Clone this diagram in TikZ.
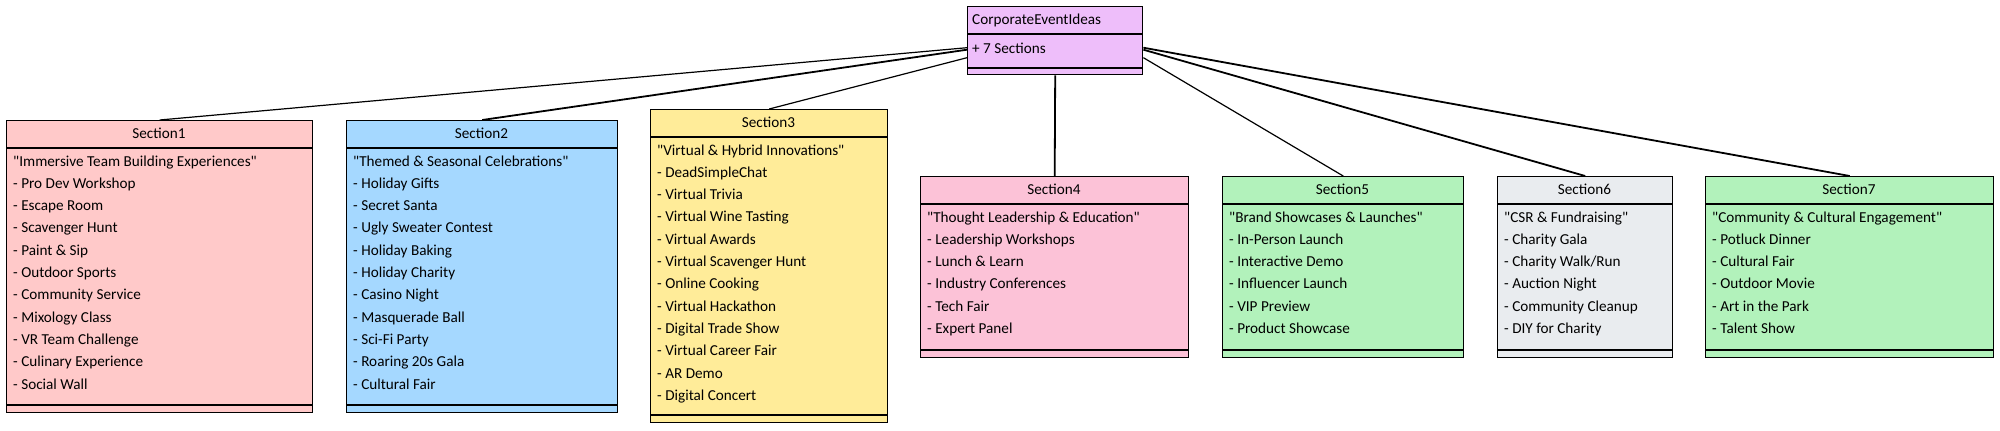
\documentclass[tikz,border=0pt]{standalone}
\usepackage{fontspec}
\setmainfont{Carlito}[Ligatures=TeXOff]
\definecolor{cmain}{HTML}{EEBEFA}
\definecolor{cone}{HTML}{FFC9C9}
\definecolor{ctwo}{HTML}{A5D8FF}
\definecolor{cthree}{HTML}{FFEC99}
\definecolor{cfour}{HTML}{FCC2D7}
\definecolor{cfive}{HTML}{B2F2BB}
\definecolor{csix}{HTML}{E9ECEF}
\definecolor{cseven}{HTML}{B2F2BB}
\tikzset{
  umlbox/.style={draw=black, line width=1.4pt, rectangle, inner sep=0pt, anchor=north west},
  divline/.style={draw=black, line width=1.2pt},
  thinconn/.style={draw=black, line width=1.2pt},
  thickconn/.style={draw=black, line width=1.8pt},
  itemtext/.style={anchor=base west, inner sep=0pt, font=\fontsize{15.2}{17}\selectfont},
  titletext/.style={anchor=base, inner sep=0pt, font=\fontsize{15.2}{17}\selectfont},
}
\newcommand\secbox[8]{%
  \node[umlbox, fill=#6, minimum width={(#4-#2)*1pt}, minimum height={(#5-#3)*1pt}] (#1) at (#2,#3) {};
  \draw[divline] (#2,{#3+28}) -- (#4,{#3+28});
  \draw[divline] (#2,{#5-7}) -- (#4,{#5-7});
  \node[titletext] (#1t) at ({(#2+#4)/2},{#3+18}) {#7};
  \foreach \t [count=\i] in {#8} {
    \node[itemtext] (#1i\i) at ({#2+7},{#3+28+18+(\i-1)*22.3}) {\t};
  }
}
\begin{document}
\begin{tikzpicture}[x=1pt,y=-1pt]
\useasboundingbox[fill=white] (0,0) rectangle (2000,431);
% main class
\node[umlbox, fill=cmain, minimum width=175pt, minimum height=68pt] (main) at (967,6) {};
\draw[divline] (967,34) -- (1142,34);
\draw[divline] (967,68) -- (1142,68);
\node[itemtext] (maint) at (972,24) {CorporateEventIdeas};
\node[itemtext] (mainm) at (972,53) {+ 7 Sections};
% sections
\secbox{s1}{6}{120}{312}{412}{cone}{Section1}{"Immersive Team Building Experiences",- Pro Dev Workshop,- Escape Room,- Scavenger Hunt,- Paint \& Sip,- Outdoor Sports,- Community Service,- Mixology Class,- VR Team Challenge,- Culinary Experience,- Social Wall}
\secbox{s2}{346}{120}{617}{412}{ctwo}{Section2}{"Themed \& Seasonal Celebrations",- Holiday Gifts,- Secret Santa,- Ugly Sweater Contest,- Holiday Baking,- Holiday Charity,- Casino Night,- Masquerade Ball,- Sci-Fi Party,- Roaring 20s Gala,- Cultural Fair}
\secbox{s3}{650}{109}{887}{422}{cthree}{Section3}{"Virtual \& Hybrid Innovations",- DeadSimpleChat,- Virtual Trivia,- Virtual Wine Tasting,- Virtual Awards,- Virtual Scavenger Hunt,- Online Cooking,- Virtual Hackathon,- Digital Trade Show,- Virtual Career Fair,- AR Demo,- Digital Concert}
\secbox{s4}{920}{176}{1188}{357}{cfour}{Section4}{"Thought Leadership \& Education",- Leadership Workshops,- Lunch \& Learn,- Industry Conferences,- Tech Fair,- Expert Panel}
\secbox{s5}{1222}{176}{1463}{357}{cfive}{Section5}{"Brand Showcases \& Launches",- In-Person Launch,- Interactive Demo,- Influencer Launch,- VIP Preview,- Product Showcase}
\secbox{s6}{1497}{176}{1672}{357}{csix}{Section6}{"CSR \& Fundraising",- Charity Gala,- Charity Walk/Run,- Auction Night,- Community Cleanup,- DIY for Charity}
\secbox{s7}{1705}{176}{1993}{357}{cseven}{Section7}{"Community \& Cultural Engagement",- Potluck Dinner,- Cultural Fair,- Outdoor Movie,- Art in the Park,- Talent Show}
% connectors
\draw[thinconn] ([yshift=-7pt]main.west) -- (s1.north);
\draw[thickconn] ([yshift=-9pt]main.west) -- (s2.north);
\draw[thinconn] ([yshift=-17pt]main.west) -- (s3.north);
\draw[thickconn] (main.south) -- (s4.north);
\draw[thinconn] ([yshift=-17pt]main.east) -- (s5.north);
\draw[thickconn] ([yshift=-9pt]main.east) -- (s6.north);
\draw[thickconn] ([yshift=-7pt]main.east) -- (s7.north);
\end{tikzpicture}
\end{document}
